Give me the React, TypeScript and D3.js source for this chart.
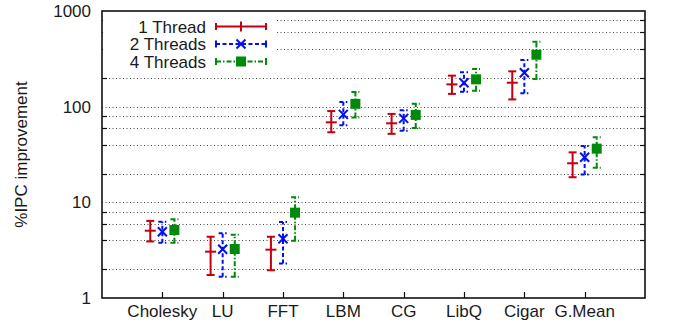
import React from "react";
import * as d3 from "d3";

const categories = ["Cholesky", "LU", "FFT", "LBM", "CG", "LibQ", "Cigar", "G.Mean"];

const thread1Mean = [5.05, 3.05, 3.2, 68.6, 67, 171, 178, 25.6];
const thread1Low = [3.9, 1.74, 1.95, 54, 52, 136, 119, 18.3];
const thread1High = [6.4, 4.37, 4.37, 90, 84, 211, 234, 33.3];

const thread2Mean = [4.93, 3.23, 4.17, 83, 75.5, 178, 226, 29.6];
const thread2Low = [3.79, 1.67, 2.3, 64, 56, 143, 138, 19.5];
const thread2High = [6.27, 4.74, 6.23, 112, 92, 229, 307, 38.8];

const thread4Mean = [5.14, 3.25, 7.8, 107, 82, 193, 349, 36.4];
const thread4Low = [3.79, 1.67, 3.97, 77, 60, 147, 195, 23];
const thread4High = [6.65, 4.59, 11.3, 142, 107, 248, 478, 47.8];

const seriesNames = ["1 Thread", "2 Threads", "4 Threads"];
const yMajorTicks = [1, 10, 100, 1000];
const yMinorTicks = [2, 4, 6, 8, 20, 40, 60, 80, 200, 400, 600, 800];

const W = 685;
const H = 322;
const left = 102;
const right = 645;
const top = 11;
const bottom = 298;
const font = "'Liberation Sans', Arial, Helvetica, sans-serif";
const fontSize = 17;
const textColor = "#1a1a1a";

type Series = {
  name: string;
  mean: number[];
  low: number[];
  high: number[];
  color: string;
  dash: string;
  offset: number;
  marker: "plus" | "cross" | "square";
};

const series: Series[] = [
  { name: seriesNames[0], mean: thread1Mean, low: thread1Low, high: thread1High, color: "#c40010", dash: "none", offset: -0.2, marker: "plus" },
  { name: seriesNames[1], mean: thread2Mean, low: thread2Low, high: thread2High, color: "#0010ee", dash: "4,2.5", offset: 0, marker: "cross" },
  { name: seriesNames[2], mean: thread4Mean, low: thread4Low, high: thread4High, color: "#00890a", dash: "5,2,1.5,2", offset: 0.2, marker: "square" },
];

function Marker({ kind, cx, cy, color }: { kind: Series["marker"]; cx: number; cy: number; color: string }) {
  if (kind === "plus") {
    return <line x1={cx - 5.5} x2={cx + 5.5} y1={cy} y2={cy} stroke={color} strokeWidth={2} />;
  }
  if (kind === "cross") {
    const r = 4.5;
    return (
      <g stroke={color} strokeWidth={2}>
        <line x1={cx - r} x2={cx + r} y1={cy - r} y2={cy + r} />
        <line x1={cx - r} x2={cx + r} y1={cy + r} y2={cy - r} />
      </g>
    );
  }
  return <rect x={cx - 5} y={cy - 5} width={10} height={10} fill={color} />;
}

export default function App() {
  const x = d3.scaleLinear().domain([-1, 8]).range([left, right]);
  const y = d3.scaleLog().domain([1, 1000]).range([bottom, top]);
  const capHalf = 4;

  const legendY = [26.5, 44, 61.5];
  const legendX1 = 216;
  const legendX2 = 266;

  return (
    <div style={{ position: "fixed", left: 0, top: 0 }}>
      <svg width={W} height={H} style={{ display: "block", background: "#fff" }}>
        {/* grid lines */}
        <g stroke="#444" strokeWidth={1} strokeDasharray="1,2.5">
          {[...yMajorTicks.slice(1, 3), ...yMinorTicks].map((t) => (
            <line key={"g" + t} x1={left} x2={right} y1={Math.round(y(t)) + 0.5} y2={Math.round(y(t)) + 0.5} />
          ))}
        </g>
        {/* minor ticks on both sides */}
        <g stroke="#111" strokeWidth={1.2}>
          {yMinorTicks.map((t) => (
            <g key={"t" + t}>
              <line x1={left} x2={left + 5} y1={Math.round(y(t)) + 0.5} y2={Math.round(y(t)) + 0.5} />
              <line x1={right - 5} x2={right} y1={Math.round(y(t)) + 0.5} y2={Math.round(y(t)) + 0.5} />
            </g>
          ))}
        </g>
        {/* x ticks */}
        <g stroke="#111" strokeWidth={1.2}>
          {categories.map((c, i) => (
            <line key={"xt" + c} x1={Math.round(x(i)) + 0.5} x2={Math.round(x(i)) + 0.5} y1={bottom} y2={bottom - 6} />
          ))}
        </g>
        {/* legend background */}
        <rect x={left + 1} y={top + 1} width={172} height={58} fill="#fff" />

        {/* error bars */}
        {series.map((s) => (
          <g key={s.name}>
            {categories.map((c, i) => {
              const cx = x(i + s.offset);
              const yl = y(s.low[i]);
              const yh = y(s.high[i]);
              const ym = y(s.mean[i]);
              return (
                <g key={c}>
                  <g stroke={s.color} strokeWidth={2} strokeDasharray={s.dash} fill="none">
                    <line x1={cx} x2={cx} y1={yl} y2={yh} />
                    <line x1={cx - capHalf} x2={cx + capHalf} y1={yl} y2={yl} />
                    <line x1={cx - capHalf} x2={cx + capHalf} y1={yh} y2={yh} />
                  </g>
                  <Marker kind={s.marker} cx={cx} cy={ym} color={s.color} />
                </g>
              );
            })}
          </g>
        ))}

        {/* legend */}
        {series.map((s, k) => (
          <g key={"leg" + s.name}>
            <text x={206} y={legendY[k] + 6} textAnchor="end" fontFamily={font} fontSize={fontSize} fill={textColor}>
              {s.name}
            </text>
            <g stroke={s.color} strokeWidth={2} strokeDasharray={s.dash}>
              <line x1={legendX1} x2={legendX2} y1={legendY[k]} y2={legendY[k]} />
            </g>
            <g stroke={s.color} strokeWidth={2}>
              <line x1={legendX1} x2={legendX1} y1={legendY[k] - 3.5} y2={legendY[k] + 3.5} />
              <line x1={legendX2} x2={legendX2} y1={legendY[k] - 3.5} y2={legendY[k] + 3.5} />
            </g>
            {s.marker === "plus" ? (
              <line x1={(legendX1 + legendX2) / 2} x2={(legendX1 + legendX2) / 2} y1={legendY[k] - 5} y2={legendY[k] + 5} stroke={s.color} strokeWidth={2} />
            ) : (
              <Marker kind={s.marker} cx={(legendX1 + legendX2) / 2} cy={legendY[k]} color={s.color} />
            )}
          </g>
        ))}

        {/* frame */}
        <rect x={left} y={top} width={right - left} height={bottom - top} fill="none" stroke="#111" strokeWidth={1.6} />

        {/* y tick labels */}
        {yMajorTicks.map((t) => (
          <text key={"yl" + t} x={91} y={y(t) + 6} textAnchor="end" fontFamily={font} fontSize={fontSize} fill={textColor}>
            {t}
          </text>
        ))}
        {/* x tick labels */}
        {categories.map((c, i) => (
          <text key={"xl" + c} x={x(i)} y={317} textAnchor="middle" fontFamily={font} fontSize={fontSize} fill={textColor}>
            {c}
          </text>
        ))}
        {/* y axis title */}
        <text
          transform={`translate(27,${(top + bottom) / 2}) rotate(-90)`}
          textAnchor="middle"
          fontFamily={font}
          fontSize={fontSize}
          fill={textColor}
        >
          %IPC improvement
        </text>
      </svg>
    </div>
  );
}
